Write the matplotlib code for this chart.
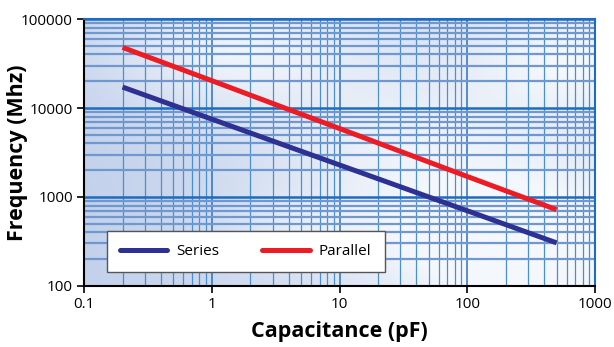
import numpy as np
import matplotlib
matplotlib.use("Agg")
import matplotlib.pyplot as plt
from matplotlib.colors import LinearSegmentedColormap

plt.rcParams['font.family'] = ['Open Sans', 'DejaVu Sans']

# Data
capacitance = [0.2, 1, 10, 100, 500]
series_freq = [17200, 7500, 2290, 700, 305]
parallel_freq = [48000, 20300, 5880, 1700, 720]
x_ticks = [0.1, 1, 10, 100, 1000]
x_labels = ["0.1", "1", "10", "100", "1000"]
y_ticks = [100, 1000, 10000, 100000]
y_labels = ["100", "1000", "10000", "100000"]

fig = plt.figure(figsize=(6.14, 3.47), dpi=100)
ax = fig.add_axes([0.137, 0.176, 0.832, 0.769])
ax.set_xscale('log')
ax.set_yscale('log')
ax.set_xlim(0.1, 1000)
ax.set_ylim(100, 100000)

# background gradient
nx, ny = 300, 150
xx, yy = np.meshgrid(np.linspace(0, 1, nx), np.linspace(0, 1, ny))
val = 0.25 + 0.35 * xx
for cx, cy, s, a in [(0.28, 0.9, 0.18, 0.55), (0.82, 0.15, 0.2, 0.7), (0.6, 0.55, 0.2, 0.35),
                     (0.95, 0.85, 0.15, 0.4), (0.4, 0.2, 0.12, 0.25)]:
    val += a * np.exp(-((xx - cx) ** 2 + (yy - cy) ** 2) / (2 * s ** 2))
val = np.clip(val, 0, 1)
cmap = LinearSegmentedColormap.from_list('bg', ['#b3c5e6', '#f4f7fc'])
ax.imshow(val, extent=[0, 1, 0, 1], transform=ax.transAxes, cmap=cmap,
          origin='lower', aspect='auto', zorder=-2, vmin=0, vmax=1)

# grid
ax.set_axisbelow(True)
ax.grid(which='minor', axis='y', color='#6f98d0', linewidth=1.6, zorder=-1)
ax.grid(which='major', axis='y', color='#1d6cc0', linewidth=1.8, zorder=-1)
ax.grid(which='minor', axis='x', color='#4a8fd2', linewidth=0.9, zorder=-1)
ax.grid(which='major', axis='x', color='#2a72c4', linewidth=1.1, zorder=-1)

ax.plot(capacitance, series_freq, color='#2e3192', linewidth=3.6, solid_capstyle='butt', label='Series')
ax.plot(capacitance, parallel_freq, color='#ed1c24', linewidth=3.6, solid_capstyle='butt', label='Parallel')

ax.set_xticks(x_ticks)
ax.set_xticklabels(x_labels)
ax.set_yticks(y_ticks)
ax.set_yticklabels(y_labels)
ax.tick_params(which='minor', length=0)
ax.tick_params(which='major', direction='out', length=5, width=1.2, labelsize=11, colors='black', pad=3)

for side in ['top', 'right']:
    ax.spines[side].set_color('#1d6cc0')
    ax.spines[side].set_linewidth(1.5)
for side in ['left', 'bottom']:
    ax.spines[side].set_color('black')
    ax.spines[side].set_linewidth(1.5)

ax.set_xlabel('Capacitance (pF)', fontsize=15.5, fontweight='bold')
ax.set_ylabel('Frequency (Mhz)', fontsize=15.5, fontweight='bold')
ax.xaxis.set_label_coords(0.5, -0.13)
ax.yaxis.set_label_coords(-0.11, 0.5)

leg = ax.legend(loc='lower left', bbox_to_anchor=(0.045, 0.052), ncol=2, frameon=True,
                fancybox=False, edgecolor='#555555', fontsize=11, handlelength=3.1,
                columnspacing=2.8, borderpad=0.85, handletextpad=0.6, borderaxespad=0)
leg.get_frame().set_linewidth(1.0)
leg.get_frame().set_facecolor('white')
leg.get_frame().set_alpha(1)
for h in leg.get_lines():
    h.set_linewidth(3.6)
    h.set_solid_capstyle('round')

fig.savefig('out.png', dpi=100)
